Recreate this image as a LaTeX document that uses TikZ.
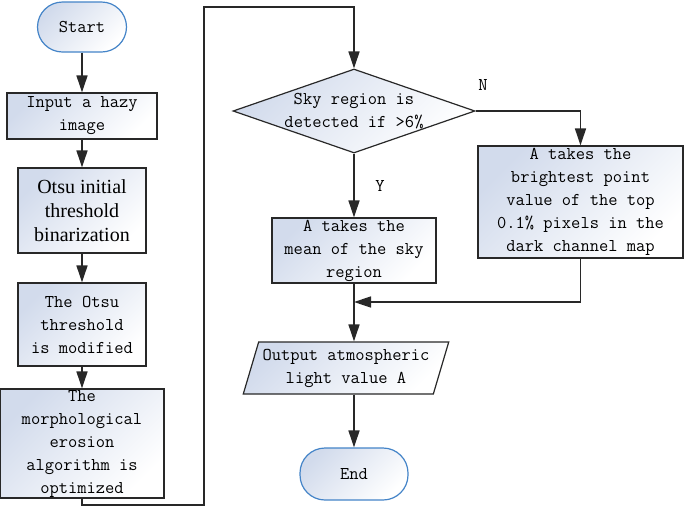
\documentclass[tikz,border=0pt]{standalone}
\usepackage{fontspec}
\setmainfont{Liberation Serif}
\usepackage{tikz}
\usetikzlibrary{positioning}
\usetikzlibrary{arrows.meta}
\usetikzlibrary{shapes.geometric}
\usepackage{xcolor}
\definecolor{boxfill}{RGB}{210,219,236}
\definecolor{termblue}{RGB}{68,132,200}
\definecolor{linegray}{RGB}{40,40,40}

\begin{document}
\begin{tikzpicture}[x=1pt, y=-1pt,
    every node/.style={font=\ttfamily\fontsize{18}{23}\selectfont, align=center, inner sep=0pt},
    fade/.style={left color=boxfill, middle color=white!85!boxfill, right color=white, shading angle=45},
    box/.style={draw=linegray, line width=1.2pt, rectangle, fade},
    term/.style={draw=termblue, line width=1.2pt, rectangle, rounded corners=25pt, fade},
    arrow/.style={draw=linegray, line width=1.6pt, -{Triangle[length=17pt, width=11pt]}},
    line/.style={draw=linegray, line width=1.6pt}]
    \useasboundingbox (0,0) rectangle (685,507);

    % Left column
    \node (start) [term, minimum width=89pt, minimum height=50pt] at (82,27) {Start};
    \node (input) [box, minimum width=150pt, minimum height=46pt] at (82,116) {Input a hazy\\image};
    \node (otsu) [box, minimum width=128pt, minimum height=85pt, font=\rmfamily\fontsize{20}{24}\selectfont] at (82,210.5) {Otsu initial\\threshold\\binarization};
    \node (modified) [box, minimum width=128pt, minimum height=83pt] at (82,324.5) {The Otsu\\threshold\\is modified};
    \node (morph) [box, minimum width=164pt, minimum height=109pt] at (82,443.5) {The\\morphological\\erosion\\algorithm is\\optimized};

    % Right part
    \node (sky) [diamond, draw=linegray, line width=1.2pt, fade,
        minimum width=242pt, minimum height=84pt,
        label={[align=center]center:Sky region is\\detected if >6\%}] at (354,111) {};
    \node (bright) [box, minimum width=205pt, minimum height=112pt] at (580.5,202) {A takes the\\brightest point\\value of the top\\0.1\% pixels in the\\dark channel map};
    \node (mean) [box, minimum width=164pt, minimum height=65pt] at (354,250.5) {A takes the\\mean of the sky\\region};
    \node (output) [trapezium, trapezium left angle=69, trapezium right angle=111, trapezium stretches=true,
        draw=linegray, line width=1.2pt, fade,
        minimum width=206pt, minimum height=52pt] at (346,368) {Output atmospheric\\light value A};
    \node (finish) [term, minimum width=108pt, minimum height=52pt] at (354,474) {End};

    % Labels
    \node (nlabel) at (483,85) {N};
    \node (ylabel) at (380,186) {Y};

    % Connectors
    \coordinate (loopbot) at (204,505);
    \coordinate (looptop) at (204,7);
    \coordinate (joint) at (354,302);
    \draw[arrow] (start) -- (input);
    \draw[arrow] (input) -- (otsu);
    \draw[arrow] (otsu) -- (modified);
    \draw[arrow] (modified) -- (morph);
    \draw[arrow] (morph.south) |- (loopbot) -- (looptop) -| (sky.north);
    \draw[arrow] (sky.east) -| (bright.north);
    \draw[arrow] (sky.south) -- (mean.north);
    \draw[arrow] (bright.south) |- (joint);
    \draw[arrow] (mean.south) -- (mean.south |- output.north);
    \draw[arrow] (finish.north |- output.south) -- (finish.north);
\end{tikzpicture}
\end{document}
